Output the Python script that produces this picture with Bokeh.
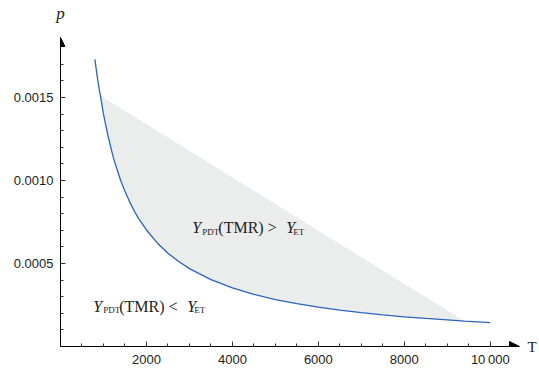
from bokeh.plotting import figure
from bokeh.models import (Range1d, FixedTicker, Arrow, NormalHead, PrintfTickFormatter,
                          LinearAxis)
from bokeh.core.properties import value
from bokeh.embed import file_html
from bokeh.resources import INLINE

# ---- data ----
curve_T = [800, 850, 900, 930, 1000, 1100, 1200, 1250, 1400, 1500, 1600, 1750, 1800,
           2000, 2250, 2500, 2750, 3000, 3500, 4000, 4500, 5000, 5500, 6000, 6500,
           7000, 7500, 8000, 8500, 9000, 9400, 10000]
curve_p = [0.001730, 0.001635, 0.001550, 0.001510, 0.001400, 0.001275, 0.001168, 0.001120,
           0.001000, 0.000935, 0.000876, 0.000800, 0.000778, 0.000702, 0.000624, 0.000562,
           0.000512, 0.000469, 0.000403, 0.000353, 0.000314, 0.000283, 0.000258, 0.000237,
           0.000219, 0.000204, 0.000191, 0.000179, 0.000169, 0.000160, 0.000153, 0.000144]

# shaded region: between curve and a straight edge from (930, 0.00151) to (9400, 0.000153)
region_T_start = 930
region_T_end = 9400

x_major = [2000, 4000, 6000, 8000, 10000]
x_labels = ["2000", "4000", "6000", "8000", "10\u2009000"]
x_minor = [500, 1000, 1500, 2500, 3000, 3500, 4500, 5000, 5500, 6500, 7000, 7500,
           8500, 9000, 9500]
y_major = [0.0005, 0.0010, 0.0015]
y_minor = [0.0001, 0.0002, 0.0003, 0.0004, 0.0006, 0.0007, 0.0008, 0.0009,
           0.0011, 0.0012, 0.0013, 0.0014, 0.0016, 0.0017]

x_name = "T"
y_name = "p"

XMAX = 10680
YMAX = 0.0018614
PX_X = XMAX / 463.0      # data units per pixel (x)
PX_Y = YMAX / 309.0      # data units per pixel (y)

p = figure(width=539, height=369, x_range=Range1d(0, XMAX), y_range=Range1d(0, YMAX),
           output_backend="svg", toolbar_location=None,
           min_border_left=60, min_border_right=16, min_border_top=37, min_border_bottom=23)
p.grid.visible = False
p.outline_line_color = None
p.background_fill_color = "white"
p.border_fill_color = "white"

# shaded region
reg = [(t, v) for t, v in zip(curve_T, curve_p) if region_T_start <= t <= region_T_end]
p.patch([r[0] for r in reg], [r[1] for r in reg], fill_color="#ebecec", line_color=None)

# curve
p.line(curve_T, curve_p, line_color="#2a64be", line_width=1.3)

# axes
for ax in (p.xaxis[0], p.yaxis[0]):
    ax.axis_line_color = "black"
    ax.axis_line_width = 1
    ax.major_tick_in = 5
    ax.major_tick_out = 0
    ax.minor_tick_in = 3
    ax.minor_tick_out = 0
    ax.major_tick_line_color = "#333333"
    ax.minor_tick_line_color = "#333333"
    ax.major_label_text_font = "Liberation Sans"
    ax.major_label_text_font_size = "13px"
    ax.major_label_text_color = "#222222"

xa = p.xaxis[0]
xa.ticker = FixedTicker(ticks=x_major, minor_ticks=x_minor)
xa.major_label_overrides = {k: v for k, v in zip(x_major, x_labels)}
xa.major_label_standoff = 5

ya = p.yaxis[0]
ya.ticker = FixedTicker(ticks=y_major, minor_ticks=y_minor)
ya.formatter = PrintfTickFormatter(format="%.4f")
ya.major_label_standoff = 7

# axis names as single-tick auxiliary axes (outside the frame)
ax_top = LinearAxis(ticker=FixedTicker(ticks=[0], minor_ticks=[]),
                    major_label_overrides={0: y_name},
                    axis_line_color=None, major_tick_line_color=None, minor_tick_line_color=None,
                    major_tick_in=0, major_tick_out=0, major_label_standoff=15,
                    major_label_text_font="Liberation Serif", major_label_text_font_style="italic",
                    major_label_text_font_size="17px", major_label_text_color="#222222")
p.add_layout(ax_top, "above")
ax_right = LinearAxis(ticker=FixedTicker(ticks=[0], minor_ticks=[]),
                      major_label_overrides={0: x_name},
                      axis_line_color=None, major_tick_line_color=None, minor_tick_line_color=None,
                      major_tick_in=0, major_tick_out=0, major_label_standoff=8,
                      major_label_text_font="Liberation Serif",
                      major_label_text_font_size="15px", major_label_text_color="#222222",
                      major_label_text_baseline="top")
p.add_layout(ax_right, "right")

# arrow heads
p.add_layout(Arrow(end=NormalHead(size=10, fill_color="black", line_color="black", line_width=1),
                   x_start=XMAX - 12 * PX_X, y_start=0, x_end=XMAX, y_end=0, line_color="black"))
p.add_layout(Arrow(end=NormalHead(size=9, fill_color="black", line_color="black", line_width=1),
                   x_start=0, y_start=YMAX - 10 * PX_Y, x_end=0, y_end=YMAX, line_color="black"))
# small axis extensions past the origin
p.add_layout(Arrow(end=None, x_start=-10 * PX_X, y_start=0, x_end=0, y_end=0, line_color="black"))
p.add_layout(Arrow(end=None, x_start=0, y_start=-5 * PX_Y, x_end=0, y_end=0, line_color="black"))

# region labels
anchors = [(3068, 0.000714, "(TMR) >"), (761, 0.000241, "(TMR) <")]
for ax_, ay_, mid in anchors:
    p.text(x=[ax_, ax_], y=[ay_, ay_], text=["Y", "Y"], x_offset=[0, 94], y_offset=[0, 0],
           text_font=value("Liberation Serif"), text_font_style="italic", text_font_size="16px",
           text_baseline="alphabetic", text_color="#222222")
    p.text(x=[ax_], y=[ay_], text=[mid], x_offset=[26], y_offset=[0],
           text_font=value("Liberation Serif"), text_font_size="16px",
           text_baseline="alphabetic", text_color="#222222")
    p.text(x=[ax_, ax_], y=[ay_, ay_], text=["PDT", "ET"], x_offset=[10, 101], y_offset=[4, 4],
           text_font=value("Liberation Serif"), text_font_size="9px",
           text_baseline="alphabetic", text_color="#222222")

open("out.html", "w").write(file_html(p, INLINE))
